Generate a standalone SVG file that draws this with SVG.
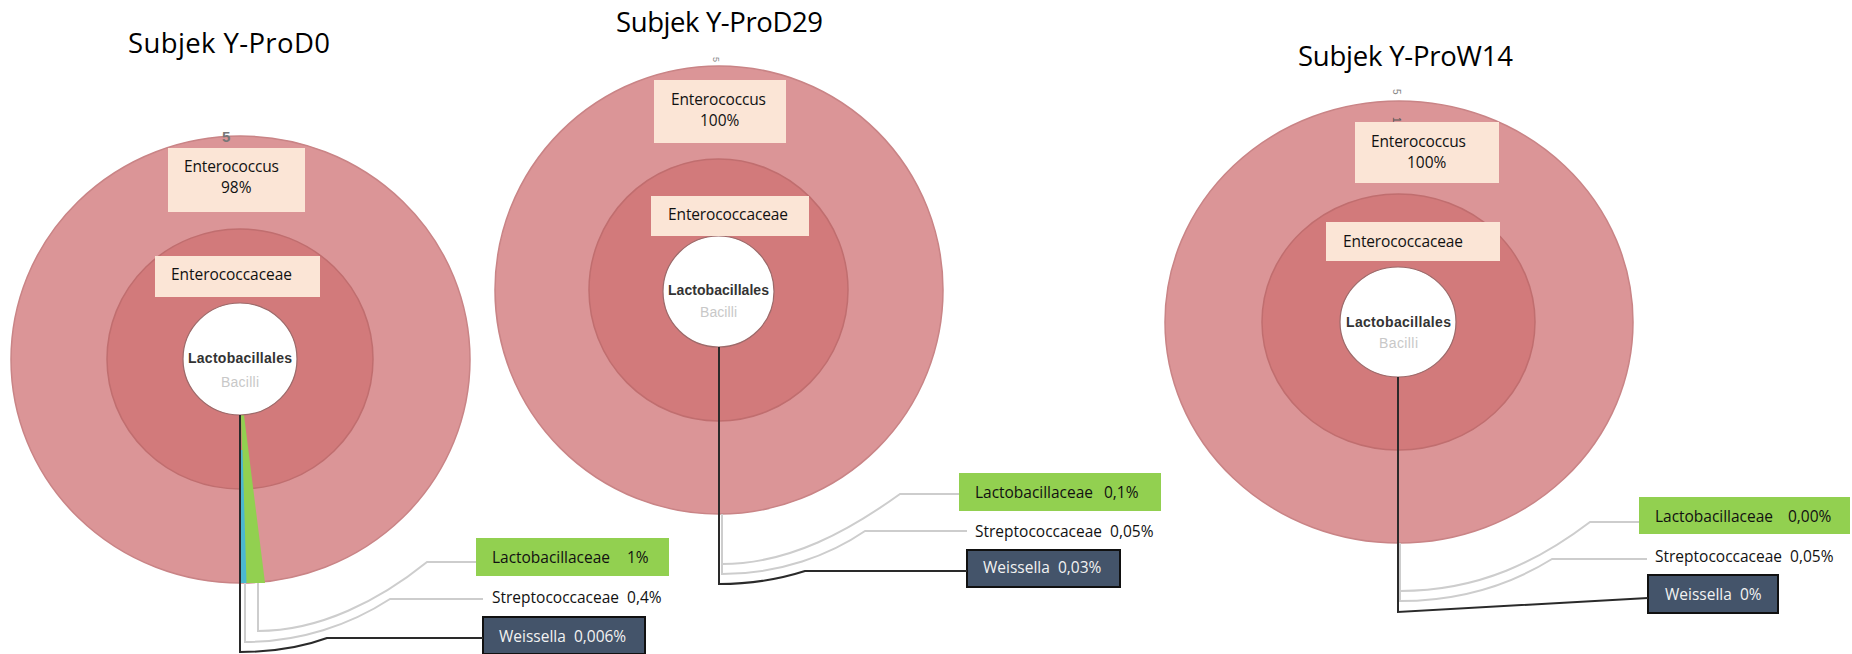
<svg xmlns="http://www.w3.org/2000/svg" width="1852" height="654" viewBox="0 0 1852 654">
<style>
.bg{fill:#ffffff}
.outer{fill:#db9597;stroke:#c98486;stroke-width:1.5}
.inner{fill:#d27a7b;stroke:#c06e6f;stroke-width:1.5}
.hole{fill:#ffffff;stroke:#9c6a6a;stroke-width:1.2}
.peach{fill:#fbe5d6}
.green{fill:#92d050}
.dark{fill:#44546a;stroke:#111;stroke-width:2}
.title{font-family:"Open Sans","Liberation Sans",sans-serif;font-size:27.5px;fill:#000}
.lbl{font-family:"Open Sans","Liberation Sans",sans-serif;font-size:15.5px;fill:#111;white-space:pre}
.wlbl{font-family:"Open Sans","Liberation Sans",sans-serif;font-size:15.5px;fill:#f2f2f2;white-space:pre}
.ord{font-family:"Liberation Sans",Arial,sans-serif;font-size:14px;font-weight:bold;fill:#333}
.cls{font-family:"Liberation Sans",Arial,sans-serif;font-size:14px;fill:#c8c8c8}
.tick{font-family:"Liberation Sans",Arial,sans-serif;fill:#888}
.gline{fill:none;stroke:#cdcdcd;stroke-width:2}
.bline{fill:none;stroke:#2a2a2a;stroke-width:2}
</style>
<rect class="bg" x="0" y="0" width="1852" height="654"/>

<!-- Chart 1 -->
<g id="chart-d0">
  <text class="title" x="128" y="53" textLength="202">Subjek Y-ProD0</text>
  <ellipse class="outer" cx="240.5" cy="359.5" rx="229.5" ry="223.5"/>
  <ellipse class="inner" cx="240" cy="359" rx="133" ry="130"/>
  <polygon points="241,415 244,415 265,583 246,583" fill="#92d050"/>
  <polygon points="241,450 242.5,450 246.5,583 241,583" fill="#4bb8d0"/>
  <ellipse class="hole" cx="240" cy="359" rx="57" ry="56"/>
  <text class="tick" x="222" y="142" style="font-size:15px;font-weight:bold;fill:#777">5</text>
  <rect class="peach" x="168" y="148" width="137" height="64"/>
  <text class="lbl" x="184" y="172" textLength="95">Enterococcus</text>
  <text class="lbl" x="221" y="193">98%</text>
  <rect class="peach" x="155" y="256" width="165" height="41"/>
  <text class="lbl" x="171" y="280" textLength="121">Enterococcaceae</text>
  <text class="ord" x="188" y="363" textLength="104">Lactobacillales</text>
  <text class="cls" x="221" y="387" textLength="38">Bacilli</text>
</g>
<g id="labels-d0">
  <rect class="green" x="476" y="538" width="193" height="38"/>
  <text class="lbl" x="492" y="563" textLength="118">Lactobacillaceae</text>
  <text class="lbl" x="627" y="563">1%</text>
  <text class="lbl" x="492" y="603" xml:space="preserve">Streptococcaceae  0,4%</text>
  <rect class="dark" x="483" y="617" width="162" height="37"/>
  <text class="wlbl" x="499" y="642" xml:space="preserve">Weissella  0,006%</text>
</g>

<!-- Chart 2 -->
<g id="chart-d29">
  <text class="title" x="616" y="32" textLength="207">Subjek Y-ProD29</text>
  <ellipse class="outer" cx="719" cy="290" rx="224" ry="224"/>
  <ellipse class="inner" cx="718.5" cy="290" rx="129.5" ry="131"/>
  <ellipse class="hole" cx="718.5" cy="291.5" rx="55.5" ry="55.5"/>
  <text class="tick" x="713" y="63" style="font-size:9px" transform="rotate(90 716 60)">5</text>
  <rect class="peach" x="654" y="80" width="132" height="63"/>
  <text class="lbl" x="671" y="105" textLength="95">Enterococcus</text>
  <text class="lbl" x="700" y="126">100%</text>
  <rect class="peach" x="651" y="196" width="158" height="40"/>
  <text class="lbl" x="668" y="220" textLength="120">Enterococcaceae</text>
  <text class="ord" x="668" y="295" textLength="101">Lactobacillales</text>
  <text class="cls" x="700" y="317" textLength="37">Bacilli</text>
</g>
<g id="labels-d29">
  <rect class="green" x="959" y="473" width="202" height="38"/>
  <text class="lbl" x="975" y="498" textLength="118">Lactobacillaceae</text>
  <text class="lbl" x="1104" y="498">0,1%</text>
  <text class="lbl" x="975" y="537" xml:space="preserve">Streptococcaceae  0,05%</text>
  <rect class="dark" x="967" y="550" width="153" height="37"/>
  <text class="wlbl" x="983" y="573" xml:space="preserve">Weissella  0,03%</text>
</g>

<!-- Chart 3 -->
<g id="chart-w14">
  <text class="title" x="1298" y="66" textLength="215">Subjek Y-ProW14</text>
  <ellipse class="outer" cx="1399" cy="322" rx="234" ry="221"/>
  <ellipse class="inner" cx="1398.5" cy="322" rx="136.5" ry="128"/>
  <ellipse class="hole" cx="1398" cy="322" rx="58" ry="55"/>
  <text class="tick" x="1394" y="96" style="font-size:10px" transform="rotate(90 1397 92)">5</text>
  <text class="tick" x="1394" y="124" style="font-size:10px;fill:#555" transform="rotate(90 1397 120)">1</text>
  <rect class="peach" x="1355" y="122" width="144" height="61"/>
  <text class="lbl" x="1371" y="147" textLength="95">Enterococcus</text>
  <text class="lbl" x="1407" y="168">100%</text>
  <rect class="peach" x="1326" y="222" width="174" height="39"/>
  <text class="lbl" x="1343" y="247" textLength="120">Enterococcaceae</text>
  <text class="ord" x="1346" y="327" textLength="105">Lactobacillales</text>
  <text class="cls" x="1379" y="348" textLength="39">Bacilli</text>
</g>
<g id="labels-w14">
  <rect class="green" x="1639" y="497" width="211" height="37"/>
  <text class="lbl" x="1655" y="522" textLength="118">Lactobacillaceae</text>
  <text class="lbl" x="1788" y="522">0,00%</text>
  <text class="lbl" x="1655" y="562" xml:space="preserve">Streptococcaceae  0,05%</text>
  <rect class="dark" x="1648" y="575" width="130" height="38"/>
  <text class="wlbl" x="1665" y="600" xml:space="preserve">Weissella  0%</text>
</g>

<!-- Connectors -->
<g id="connectors">
  <path class="gline" d="M258,583 V631 C320,631 380,600 427,562 H476"/>
  <path class="gline" d="M245,583 V642 C300,642 350,625 390,599 H483"/>
  <path class="bline" d="M240,415 V652 C270,652 300,648 327,638 H483"/>

  <path class="gline" d="M722,514 V564 C790,564 850,530 900,494 H959"/>
  <path class="gline" d="M722,514 V574 C780,574 830,555 865,531 H967"/>
  <path class="bline" d="M719,347 V584 C750,584 780,579 805,571 H967"/>

  <path class="gline" d="M1400,543 V591 C1480,591 1540,560 1590,522 H1639"/>
  <path class="gline" d="M1400,543 V601 C1460,601 1510,585 1552,559 H1647"/>
  <path class="bline" d="M1398,377 V612 L1648,598"/>
</g>
</svg>
